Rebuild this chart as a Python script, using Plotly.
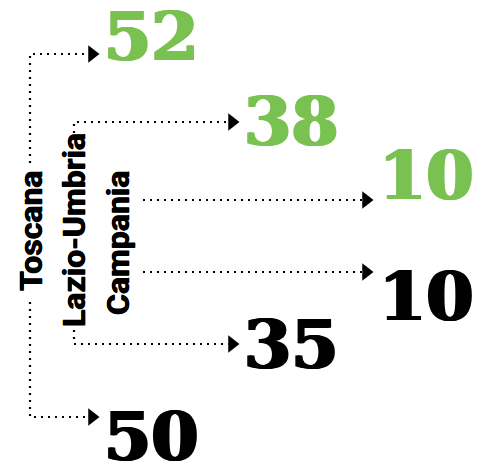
import plotly.graph_objects as go

# ---- data ----
regions = ["Toscana", "Lazio-Umbria", "Campania"]
green_values = [52, 38, 10]
black_values = [50, 35, 10]

GREEN = "#79c150"
BLACK = "#000000"
W, H = 478, 463

# ---- layout constants (pixels, y downward) ----
label_x = [31, 74, 118]
label_y = [231, 230, 243]
line_x = [30, 74, None]          # vertical connector x (None = no vertical part)
top_start = [163, 133, None]     # where vertical connector leaves label (top)
bot_start = [302, 330, None]
top_y = [54, 122, 200]
bot_y = [417, 344, 272]
h_start = [30, 74, 143]
tip_x = [100, 240, 374]
num_x = [102, 242, 377]
green_cy = [36, 121, 175]
black_cy = [436, 344, 296]

fig = go.Figure()

def dotted(xs, ys):
    fig.add_trace(go.Scatter(x=xs, y=ys, mode="lines",
                             line=dict(color=BLACK, width=2.2, dash="2px,5px"),
                             hoverinfo="skip", showlegend=False))

ax, ay = [], []
for i, r in enumerate(regions):
    if line_x[i] is not None:
        dotted([line_x[i], line_x[i], tip_x[i] - 10], [top_start[i], top_y[i], top_y[i]])
        dotted([line_x[i], line_x[i], tip_x[i] - 10], [bot_start[i], bot_y[i], bot_y[i]])
    else:
        dotted([h_start[i], tip_x[i] - 10], [top_y[i], top_y[i]])
        dotted([h_start[i], tip_x[i] - 10], [bot_y[i], bot_y[i]])
    ax += [tip_x[i] - 8, tip_x[i] - 8]
    ay += [top_y[i], bot_y[i]]

fig.add_trace(go.Scatter(x=ax, y=ay, mode="markers",
                         marker=dict(symbol="triangle-right", size=15, color=BLACK, line=dict(width=0)),
                         hoverinfo="skip", showlegend=False))

def fat(c, d):
    return f"{d}px 0px 0px {c}, -{d}px 0px 0px {c}"

annotations = []
for i, r in enumerate(regions):
    annotations.append(dict(x=label_x[i], y=label_y[i], xref="x", yref="y", text=r,
                            textangle=-90, showarrow=False, xanchor="center", yanchor="middle",
                            font=dict(family="Roboto, sans-serif", size=32, color=BLACK,
                                      weight="bold", shadow="0.5px 0px 0px #000, -0.5px 0px 0px #000")))
    annotations.append(dict(x=num_x[i], y=green_cy[i], xref="x", yref="y", text=str(green_values[i]),
                            showarrow=False, xanchor="left", yanchor="middle",
                            font=dict(family="DejaVu Serif", size=68, color=GREEN, weight="bold",
                                      shadow=fat(GREEN, 1.5))))
    annotations.append(dict(x=num_x[i], y=black_cy[i], xref="x", yref="y", text=str(black_values[i]),
                            showarrow=False, xanchor="left", yanchor="middle",
                            font=dict(family="DejaVu Serif", size=68, color=BLACK, weight="bold",
                                      shadow=fat(BLACK, 1.5))))

fig.update_layout(
    width=W, height=H,
    margin=dict(l=0, r=0, t=0, b=0),
    paper_bgcolor="white", plot_bgcolor="white",
    xaxis=dict(range=[0, W], visible=False, fixedrange=True),
    yaxis=dict(range=[H, 0], visible=False, fixedrange=True),
    annotations=annotations,
    showlegend=False,
)

fig.write_html("out.html", config={"displayModeBar": False},
               post_script="document.body.style.margin='0';document.body.style.overflow='hidden';")
